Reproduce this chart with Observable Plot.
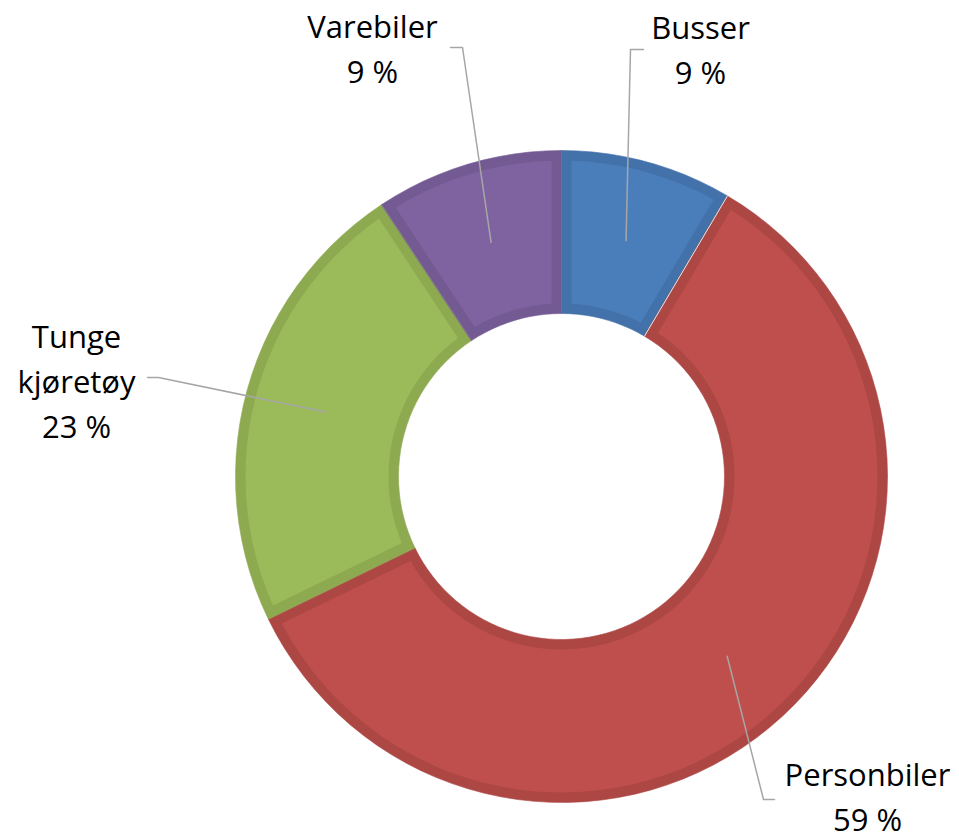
<!DOCTYPE html>
<html><head><meta charset="utf-8">
<script src="https://cdn.jsdelivr.net/npm/d3@7"></script>
<script src="https://cdn.jsdelivr.net/npm/@observablehq/plot@0.6"></script>
<style>body{margin:0;background:#fff}</style>
</head><body><div id="chart"></div>
<script>
// ---- data ----
const categories = ["Busser", "Personbiler", "Tunge kjøretøy", "Varebiler"];
const values = [8.5, 59.3, 22.9, 9.3]; // share in %
const fillColors = ["#4A7EBB", "#BE4F4C", "#9BBA59", "#7F63A1"];
const borderColors = ["#4371A9", "#AD4744", "#8DAA51", "#735A93"];

// ---- layout (pixels in the 959x839 frame) ----
const W = 959, H = 839, CX = 561, CY = 476, R = 326, R0 = 163, B = 10;
// label anchor (centre x, baseline of last line) and leader start/elbow
const labelPos = [[700, 83], [867, 830], [76, 437], [372, 82]];
const leaderStart = [[643, 49], [774, 799], [147, 377], [450, 47]];
const leaderElbow = [[630, 49], [763, 799], [158, 377], [462, 47]];

const arcs = d3.pie().sort(null).value(d => d)(values);
const N = 120;
function arcPts(rho, a0, a1) {
  const pts = [];
  const n = Math.max(2, Math.ceil(N * Math.abs(a1 - a0) / (2 * Math.PI)));
  for (let i = 0; i <= n; i++) {
    const a = a0 + (a1 - a0) * i / n;
    pts.push([rho * Math.sin(a), -rho * Math.cos(a)]);
  }
  return pts;
}
function ring(a0, a1, ro, ri, b) {
  const dOo = b ? Math.asin(b / ro) : 0, dOi = b ? Math.asin(b / ri) : 0;
  return [...arcPts(ro, a0 + dOo, a1 - dOo), ...arcPts(ri, a1 - dOi, a0 + dOi)];
}

const marks = [];
arcs.forEach((a, i) => {
  const outer = ring(a.startAngle, a.endAngle, R, R0, 0).map(([x, y]) => ({x, y}));
  const inner = ring(a.startAngle, a.endAngle, R - B, R0 + B, B).map(([x, y]) => ({x, y}));
  marks.push(Plot.line(outer, {x: "x", y: "y", curve: "linear-closed", fill: borderColors[i], stroke: borderColors[i], strokeWidth: 0.6}));
  marks.push(Plot.line(inner, {x: "x", y: "y", curve: "linear-closed", fill: fillColors[i], stroke: "none"}));
});

// thin light separator between Busser and Personbiler
const sepA = arcs[0].endAngle;
marks.push(Plot.line([{x: R0 * Math.sin(sepA), y: -R0 * Math.cos(sepA)}, {x: R * Math.sin(sepA), y: -R * Math.cos(sepA)}],
  {x: "x", y: "y", stroke: "#E6E6E6", strokeWidth: 1}));

// leader lines
const leaders = [];
arcs.forEach((a, i) => {
  const m = (a.startAngle + a.endAngle) / 2, rm = (R + R0) / 2;
  leaders.push({k: i, x: leaderStart[i][0] - CX, y: leaderStart[i][1] - CY});
  leaders.push({k: i, x: leaderElbow[i][0] - CX, y: leaderElbow[i][1] - CY});
  leaders.push({k: i, x: rm * Math.sin(m), y: -rm * Math.cos(m)});
});
marks.push(Plot.line(leaders, {x: "x", y: "y", z: "k", stroke: "#A6A6A6", strokeWidth: 1.5}));

// labels
const labels = categories.map((c, i) => ({
  x: labelPos[i][0] - CX, y: labelPos[i][1] - CY,
  text: c.replace(" ", "\n") + "\n" + Math.round(values[i]) + " %"
}));
marks.push(Plot.text(labels, {x: "x", y: "y", text: "text", textAnchor: "middle", lineAnchor: "bottom",
  lineHeight: 1.45, fontSize: 31, fontFamily: "Open Sans", fill: "#000"}));

const chart = Plot.plot({
  width: W, height: H, margin: 0,
  x: {domain: [-CX, W - CX], range: [0, W], axis: null},
  y: {domain: [-CY, H - CY], range: [0, H], axis: null},
  style: {background: "white", fontFamily: "Open Sans"},
  marks
});
document.getElementById("chart").append(chart);
</script>
</body></html>
